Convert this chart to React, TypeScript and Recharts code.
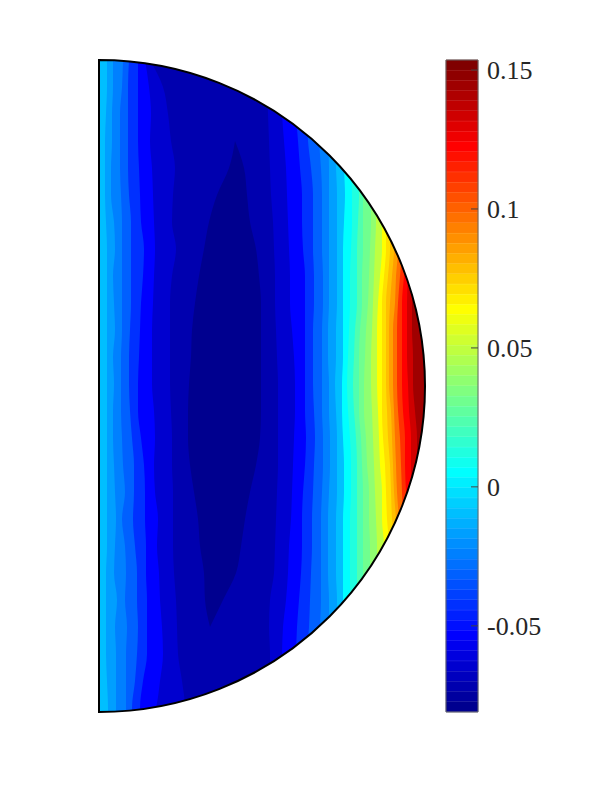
import { Bar, BarChart, Cell, Area, ComposedChart, ReferenceArea, ReferenceDot, XAxis, YAxis } from "recharts"

// height along the flat edge, one entry per row of contour readings
const rowY = [326, 299, 272, 245, 218, 191, 164, 137, 110, 83, 56, 29, 2, -25, -52, -79, -106, -133, -160, -187, -214, -241, -268, -295, -322, -326]

// contour positions measured from the flat edge, left of the central minimum
const left1 = [8, 8, 7, 6, 6, 6, 7, 8, 8, 8, 8, 8, 8, 8, 8, 8, 8, 8, 8, 7, 7, 7, 7, 8, 9, 9]
const left2 = [14, 14, 13, 13, 12, 12, 15, 16, 14, 15, 16, 14, 15, 14, 14, 15, 16, 17, 16, 15, 18, 16, 17, 17, 17, 17]
const left3 = [24, 23, 21, 21, 21, 22, 23, 23, 23, 23, 23, 22, 22, 22, 23, 24, 26, 23, 26, 27, 26, 28, 27, 27, 27, 27]
const left4 = [30, 29, 29, 29, 29, 30, 32, 32, 32, 32, 31, 30, 30, 31, 33, 35, 35, 34, 36, 38, 38, 39, 38, 36, 33, 33]
const left5 = [39, 39, 39, 39, 40, 41, 42, 45, 44, 42, 41, 40, 39, 39, 42, 45, 46, 46, 47, 47, 48, 48, 48, 44, 41, 41]
const left6 = [46, 50, 52, 51, 53, 54, 55, 56, 55, 54, 53, 53, 53, 55, 56, 55, 56, 59, 58, 60, 61, 63, 64, 61, 57, 56]
const left7 = [51, 64, 69, 72, 76, 74, 73, 77, 73, 71, 71, 71, 71, 72, 73, 73, 74, 74, 74, 75, 77, 78, 79, 83, 86, 86]

// the closed minimum in the middle only exists on part of the rows
const coreLeft = [null, null, null, 136, 130, 118, 110, 105, 100, 96, 93, 92, 90, 89, 89, 91, 95, 99, 101, 105, 106, 111, null, null, null, null]
const coreRight = [null, null, null, 136, 145, 148, 151, 157, 160, 162, 162, 162, 162, 162, 161, 157, 151, 146, 142, 137, 124, 111, null, null, null, null]

// contours right of the minimum
const right1 = [167, 168, 169, 170, 171, 172, 174, 175, 176, 176, 177, 178, 179, 179, 179, 179, 178, 177, 176, 175, 171, 170, 171, 171, 171, 171]
const right2 = [181, 182, 183, 185, 187, 188, 189, 190, 191, 191, 193, 195, 196, 196, 195, 194, 193, 192, 190, 189, 187, 184, 183, 182, 181, 181]
const right3 = [195, 196, 197, 199, 201, 203, 203, 204, 206, 206, 206, 206, 206, 206, 207, 206, 204, 203, 203, 202, 200, 198, 197, 196, 195, 195]
const right4 = [207, 207, 208, 209, 212, 214, 214, 214, 215, 215, 214, 214, 214, 215, 216, 215, 214, 213, 213, 212, 211, 210, 208, 207, 207, 207]
const right5 = [218, 218, 219, 220, 222, 223, 223, 223, 224, 224, 223, 223, 223, 223, 224, 224, 223, 222, 222, 222, 222, 221, 220, 220, 219, 219]
const right6 = [227, 227, 228, 229, 230, 230, 230, 230, 230, 230, 229, 229, 230, 230, 231, 231, 230, 229, 229, 229, 230, 230, 230, 229, 229, 229]
const right7 = [235, 235, 236, 236, 237, 238, 238, 238, 238, 238, 237, 237, 236, 237, 238, 238, 238, 237, 237, 237, 238, 238, 237, 236, 236, 236]
const right8 = [243, 243, 244, 244, 245, 246, 245, 244, 244, 244, 244, 244, 243, 243, 244, 245, 245, 244, 244, 244, 244, 244, 244, 244, 244, 244]
const right9 = [251, 251, 251, 251, 252, 253, 253, 252, 251, 251, 250, 249, 248, 249, 251, 252, 252, 251, 251, 251, 251, 251, 251, 251, 251, 251]
const right10 = [259, 259, 259, 259, 259, 260, 259, 258, 258, 258, 256, 255, 254, 255, 257, 258, 258, 258, 258, 258, 258, 258, 258, 258, 258, 258]
const right11 = [264, 264, 264, 264, 264, 264, 264, 264, 263, 263, 261, 260, 260, 260, 262, 263, 264, 264, 264, 264, 264, 264, 264, 264, 264, 264]
const right12 = [272, 272, 272, 272, 272, 272, 272, 271, 270, 269, 267, 266, 265, 265, 267, 268, 270, 270, 271, 271, 271, 271, 271, 271, 271, 271]
const right13 = [277, 277, 277, 277, 277, 277, 277, 276, 275, 274, 273, 272, 272, 273, 274, 275, 276, 277, 278, 278, 278, 278, 278, 278, 278, 278]
const right14 = [283, 283, 283, 283, 283, 283, 283, 283, 281, 279, 278, 278, 278, 279, 280, 281, 283, 283, 285, 285, 285, 285, 285, 285, 285, 285]
const right15 = [287, 287, 287, 287, 287, 287, 287, 287, 285, 283, 283, 283, 283, 283, 284, 286, 287, 288, 290, 290, 290, 290, 290, 290, 290, 290]
const right16 = [291, 291, 291, 291, 291, 291, 291, 291, 289, 287, 287, 287, 287, 288, 289, 291, 292, 293, 295, 295, 295, 295, 295, 295, 295, 295]
const right17 = [295, 295, 295, 295, 295, 295, 295, 295, 293, 291, 290, 290, 290, 292, 293, 294, 295, 297, 299, 299, 299, 299, 299, 299, 299, 299]
const right18 = [299, 299, 299, 299, 299, 299, 299, 299, 297, 296, 294, 294, 294, 295, 296, 297, 298, 300, 302, 302, 302, 302, 302, 302, 302, 302]
const right19 = [303, 303, 303, 303, 303, 303, 303, 303, 301, 299, 298, 298, 298, 299, 301, 302, 303, 304, 305, 306, 306, 306, 306, 306, 306, 306]
const right20 = [307, 307, 307, 307, 307, 307, 307, 307, 305, 303, 303, 303, 303, 304, 306, 306, 307, 308, 309, 309, 309, 309, 309, 309, 309, 309]
const right21 = [311, 311, 311, 311, 311, 311, 311, 311, 309, 308, 308, 308, 309, 310, 312, 312, 312, 312, 312, 313, 313, 313, 313, 313, 313, 313]
const right22 = [315, 315, 315, 315, 315, 315, 315, 315, 314, 313, 313, 314, 314, 316, 318, 318, 318, 318, 318, 318, 318, 318, 318, 318, 318, 318]
const rim = [326, 326, 326, 326, 326, 326, 326, 326, 326, 326, 326, 326, 326, 326, 326, 326, 326, 326, 326, 326, 326, 326, 326, 326, 326, 326]

// painted in this order, each area reaching back to the flat edge and covering the last
const contourLines = [rim, right22, right21, right20, right19, right18, right17, right16, right15, right14, right13, right12, right11, right10, right9, right8, right7, right6, right5, right4, right3, right2, right1, coreRight, coreLeft, left7, left6, left5, left4, left3, left2, left1]
const contourColors = ["#9f0000", "#cf0000", "#ff0000", "#ff3000", "#ff7000", "#ff9f00", "#ffbf00", "#ffdf00", "#ffff00", "#bfff40", "#90ff70", "#70ff8f", "#50ffaf", "#20ffdf", "#00ffff", "#00bfff", "#009fff", "#0080ff", "#0060ff", "#0030ff", "#0000ff", "#0000cf", "#0000af", "#00008f", "#0000af", "#0000cf", "#0000ff", "#0030ff", "#0060ff", "#0080ff", "#009fff", "#00bfff"]

// colour bar, top to bottom
const barColors = [
  "#800000", "#8f0000", "#9f0000", "#af0000", "#bf0000", "#cf0000", "#df0000", "#ef0000",
  "#ff0000", "#ff1000", "#ff2000", "#ff3000", "#ff4000", "#ff5000", "#ff6000", "#ff7000",
  "#ff8000", "#ff8f00", "#ff9f00", "#ffaf00", "#ffbf00", "#ffcf00", "#ffdf00", "#ffef00",
  "#ffff00", "#efff10", "#dfff20", "#cfff30", "#bfff40", "#afff50", "#9fff60", "#8fff70",
  "#80ff80", "#70ff8f", "#60ff9f", "#50ffaf", "#40ffbf", "#30ffcf", "#20ffdf", "#10ffef",
  "#00ffff", "#00efff", "#00dfff", "#00cfff", "#00bfff", "#00afff", "#009fff", "#008fff",
  "#0080ff", "#0070ff", "#0060ff", "#0050ff", "#0040ff", "#0030ff", "#0020ff", "#0010ff",
  "#0000ff", "#0000ef", "#0000df", "#0000cf", "#0000bf", "#0000af", "#00009f", "#00008f",
]
const barTicks = [-0.05, 0, 0.05, 0.1, 0.15]
const barDomain = [-0.081, 0.1536]

const rows = rowY.map((y, i) => {
  const row: Record<string, number | null> = { y }
  contourLines.forEach((line, k) => {
    row[`line${k}`] = line[i]
  })
  return row
})
const barRows = barColors.map((color) => ({ color, span: 1 }))

const radius = 326

// white out everything past the half disc and draw its outline on top
function DiscFrame({ cx, cy }: { cx?: number; cy?: number }) {
  const x = cx ?? 0
  const y = cy ?? 0
  const disc = `M${x} ${y - radius}A${radius} ${radius} 0 0 1 ${x} ${y + radius}Z`
  const outer = `M${x - 4} ${y - radius - 8}H${x + radius + 8}V${y + radius + 8}H${x - 4}Z`
  return (
    <g>
      <path d={outer + disc} fill="#ffffff" fillRule="evenodd" />
      <path d={disc} fill="none" stroke="#000000" strokeWidth={2} />
    </g>
  )
}

export default function App() {
  return (
    <div style={{ position: "absolute", left: 0, top: 0, width: 600, height: 800 }}>
      <div style={{ position: "absolute", left: 0, top: 0 }}>
        <ComposedChart
          width={600}
          height={800}
          layout="vertical"
          data={rows}
          margin={{ left: 99, right: 175, top: 60, bottom: 88 }}
        >
          <XAxis type="number" domain={[0, 326]} hide />
          <YAxis type="number" dataKey="y" domain={[-326, 326]} reversed hide />
          {contourLines.map((_, k) => (
            <Area
              key={k}
              dataKey={`line${k}`}
              type="monotone"
              baseValue={0}
              fill={contourColors[k]}
              fillOpacity={1}
              stroke="none"
              dot={false}
              activeDot={false}
              isAnimationActive={false}
            />
          ))}
          <ReferenceDot x={0} y={0} r={1} shape={(props: any) => <DiscFrame cx={props.cx} cy={props.cy} />} />
        </ComposedChart>
      </div>
      <div style={{ position: "absolute", left: 0, top: 0 }}>
        <BarChart
          width={600}
          height={800}
          layout="vertical"
          data={barRows}
          barCategoryGap={0}
          margin={{ left: 446, right: 122, top: 60, bottom: 88 }}
        >
          <XAxis type="number" domain={[0, 1]} hide />
          <YAxis type="category" dataKey="color" hide />
          <Bar dataKey="span" isAnimationActive={false}>
            {barColors.map((color) => (
              <Cell key={color} fill={color} stroke={color} strokeWidth={0.5} />
            ))}
          </Bar>
        </BarChart>
      </div>
      <div style={{ position: "absolute", left: 0, top: 0 }}>
        <ComposedChart width={600} height={800} data={barRows} margin={{ left: 446, right: 0, top: 60, bottom: 88 }}>
          <XAxis dataKey="color" hide />
          <YAxis
            type="number"
            orientation="right"
            width={122}
            domain={barDomain}
            ticks={barTicks}
            axisLine={false}
            tickSize={-7}
            tickMargin={16}
            tickLine={{ stroke: "#404040", strokeWidth: 1 }}
            tick={{ fill: "#262626", fontSize: 26, fontFamily: "Liberation Serif" }}
            tickFormatter={(v: number) => String(v)}
            allowDataOverflow
          />
          <ReferenceArea y1={barDomain[0]} y2={barDomain[1]} fill="none" stroke="#666666" strokeWidth={1} />
        </ComposedChart>
      </div>
    </div>
  )
}
